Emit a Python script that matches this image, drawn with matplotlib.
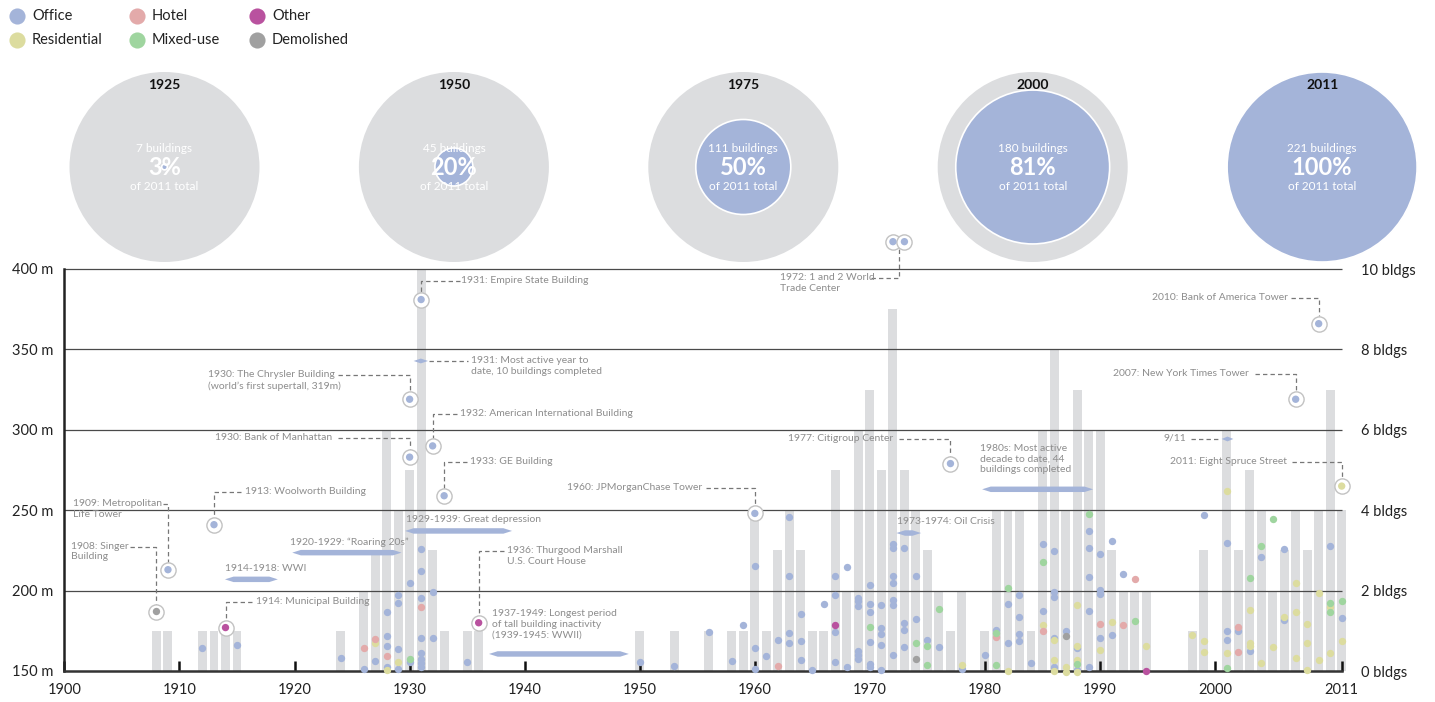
import numpy as np
import matplotlib.pyplot as plt
from matplotlib.patches import Circle, Polygon

plt.rcParams["font.family"] = ["Lato", "DejaVu Sans"]

# =====================================================
# DATA
# =====================================================

# buildings completed per year (bars, right axis)
bar_years = [1908, 1909, 1912, 1913, 1914, 1915, 1924, 1926, 1927, 1928, 1929, 1930, 1931, 1932, 1933, 1935, 1936,
             1950, 1953, 1956, 1958, 1959, 1960, 1961, 1962, 1963, 1964, 1965, 1966, 1967, 1968, 1969, 1970,
             1971, 1972, 1973, 1974, 1975, 1976, 1977, 1978, 1980, 1981, 1982, 1983, 1984, 1985, 1986, 1987,
             1988, 1989, 1990, 1991, 1992, 1993, 1994, 1998, 1999, 2001, 2002, 2003, 2004, 2005, 2006, 2007,
             2008, 2009, 2010, 2011]
bar_counts = [1, 1, 1, 1, 1, 1, 1, 2, 3, 6, 4, 5, 10, 3, 1, 1, 1,
              1, 1, 1, 1, 1, 4, 1, 3, 4, 3, 1, 1, 5, 2, 6, 7,
              5, 9, 5, 4, 3, 2, 1, 2, 1, 4, 4, 4, 1, 6, 8, 4,
              7, 6, 6, 3, 2, 2, 2, 1, 3, 6, 3, 5, 4, 2, 3, 4,
              3, 4, 7, 4]

# (year, height in m) of each building by function
office = [(1912, 164), (1915, 166), (1924, 158), (1926, 151), (1927, 156),
          (1928, 187), (1928, 172), (1928, 165.7), (1928, 152.7),
          (1929, 197.3), (1929, 192.3), (1929, 163.5), (1929, 151),
          (1930, 204.5), (1930, 155.4),
          (1931, 225.7), (1931, 212), (1931, 195.7), (1931, 170.3), (1931, 161.4), (1931, 157.3),
          (1931, 154.8), (1931, 152.7),
          (1932, 199), (1932, 170.5), (1935, 155.8), (1950, 155.8), (1953, 153.3), (1956, 174),
          (1958, 156.4), (1959, 178.6), (1960, 215), (1960, 164), (1960, 151), (1961, 159.5), (1962, 169),
          (1963, 246), (1963, 209), (1963, 173.6), (1963, 167.6),
          (1964, 185.2), (1964, 168.7), (1964, 156.6), (1965, 150.6), (1966, 191.5),
          (1967, 209.3), (1967, 197.3), (1967, 174.4), (1967, 155.4), (1968, 214.7), (1968, 152.7),
          (1969, 195.6), (1969, 193.5), (1969, 190.4), (1969, 162.4), (1969, 160), (1969, 157.5),
          (1970, 203.5), (1970, 191.5), (1970, 186.9), (1970, 167.8), (1970, 154.2), (1970, 152.7),
          (1971, 190.8), (1971, 176.5), (1971, 173), (1971, 166.4), (1971, 150.6),
          (1972, 229), (1972, 226.7), (1972, 209), (1972, 204.9), (1972, 194.2), (1972, 191), (1972, 160),
          (1973, 226.2), (1973, 179.9), (1973, 175.3), (1973, 164.7),
          (1974, 209.3), (1974, 182.5), (1975, 169.3), (1976, 164.7), (1978, 151), (1980, 159.7),
          (1981, 175.5), (1982, 191.5), (1982, 167.6),
          (1983, 197.3), (1983, 183.4), (1983, 173.2), (1983, 168.5), (1984, 155.2),
          (1985, 228.8), (1985, 187.1),
          (1986, 224.6), (1986, 199), (1986, 195.8), (1986, 170.7), (1986, 152.3),
          (1987, 174.7), (1988, 164), (1988, 150.6),
          (1989, 236.9), (1989, 226.5), (1989, 208.3), (1989, 187.1), (1989, 152.3),
          (1990, 223), (1990, 200.4), (1990, 197.7), (1990, 170.7),
          (1991, 230.6), (1991, 172.6), (1992, 210.5), (1999, 246.8),
          (2001, 229.8), (2001, 174.9), (2001, 169.1), (2002, 174.9), (2003, 162.6), (2004, 221.1),
          (2006, 225.7), (2006, 181.7), (2010, 227.7), (2011, 182.8)]

residential = [(1927, 167.5), (1928, 150.6), (1929, 155.4), (1978, 153.7), (1982, 150), (1985, 178.6),
               (1986, 169.3), (1986, 156.8), (1986, 150.2), (1987, 152.3), (1987, 149.2),
               (1988, 191.3), (1988, 165.7), (1988, 156.8), (1988, 149.6),
               (1990, 163.2), (1991, 180.7), (1994, 165.7), (1998, 172.4), (1999, 168.5), (1999, 161.6),
               (2001, 261.9), (2001, 161), (2003, 187.9), (2003, 167.6), (2003, 165.7), (2004, 155.2),
               (2005, 165.1), (2006, 183.6), (2007, 204.7), (2007, 186.9), (2007, 158.3),
               (2008, 179), (2008, 167.2), (2008, 150.4), (2009, 198.7), (2009, 156.8),
               (2010, 189.6), (2010, 161.4), (2011, 168.7)]

hotel = [(1926, 164.5), (1927, 170), (1928, 159.3), (1931, 190), (1962, 153.3), (1981, 171),
         (1985, 174.7), (1990, 179.2), (1992, 178.8), (1993, 207.2), (2002, 177.6), (2002, 161.8)]

mixed_use = [(1930, 157.5), (1970, 177.2), (1974, 167.6), (1975, 165.5), (1975, 154), (1976, 188.8),
             (1981, 173.4), (1981, 153.7), (1982, 201.8), (1985, 217.6), (1988, 154.4), (1989, 247.4),
             (1993, 180.9), (2001, 151.9), (2003, 208), (2004, 227.9), (2005, 244.8),
             (2010, 192.1), (2010, 186.5), (2011, 193.8)]

other = [(1967, 178.6), (1994, 149.8)]

demolished = [(1974, 157.3), (1987, 172)]

# landmark buildings (circled)
landmark_years = [1908, 1909, 1913, 1914, 1930, 1930, 1931, 1932, 1933, 1936, 1960, 1972, 1973, 1977,
                  2007, 2009, 2011]
landmark_heights = [187, 213, 241, 177, 319, 283, 381, 290, 259, 180, 248, 417, 417, 279, 319, 366, 265]
landmark_uses = ["Demolished", "Office", "Office", "Other", "Office", "Office", "Office", "Office",
                 "Office", "Other", "Office", "Office", "Office", "Office", "Office", "Office", "Residential"]

# cumulative totals
snapshot_years = ["1925", "1950", "1975", "2000", "2011"]
snapshot_counts = [7, 45, 111, 180, 221]

# =====================================================
# STYLE
# =====================================================

COLORS = {
    "Office": "#a4b4d9",
    "Hotel": "#e3aaaa",
    "Other": "#b9529f",
    "Residential": "#dcdc9f",
    "Mixed-use": "#9fd59f",
    "Demolished": "#a0a0a0",
}
BAR_GREY = "#dcdddf"
NOTE_GREY = "#8d8d8d"
LEADER_GREY = "#777777"
NOTE_SIZE = 7.5
RING = 4.8  # ring radius in metres

fig = plt.figure(figsize=(14.35, 7.02), dpi=100)

# =====================================================
# LEGEND + SNAPSHOT CIRCLES (pixel canvas)
# =====================================================

top = fig.add_axes([0, 0, 1, 1])
top.set_xlim(0, 1435)
top.set_ylim(702, 0)
top.axis("off")

legend_order = ["Office", "Hotel", "Other", "Residential", "Mixed-use", "Demolished"]
for i, name in enumerate(legend_order):
    lx = 17 + 120 * (i % 3)
    ly = 15.5 + 24 * (i // 3)
    top.scatter(lx, ly, s=135, color=COLORS[name], lw=0)
    top.text(lx + 15, ly, name, fontsize=10.5, va="center", color="#222222")

total = snapshot_counts[-1]
R = 95
for i, (yr, n) in enumerate(zip(snapshot_years, snapshot_counts)):
    cx = 164.5 + 289.4 * i
    cy = 167
    pct = round(100 * n / total)
    top.add_patch(Circle((cx, cy), R, color=BAR_GREY, lw=0))
    top.add_patch(Circle((cx, cy), R * pct / 100, facecolor=COLORS["Office"],
                         edgecolor="white", lw=1.2))
    top.text(cx, 85, yr, ha="center", va="center", fontsize=10, fontweight="bold", color="#111111")
    top.text(cx, 148, f"{n} buildings", ha="center", va="center", fontsize=8.5, color="white")
    top.text(cx, 167.5, f"{pct}%", ha="center", va="center", fontsize=17, fontweight="bold", color="white")
    top.text(cx, 187, "of 2011 total", ha="center", va="center", fontsize=8.5, color="white")

# =====================================================
# BARS (building counts)
# =====================================================

pos = [64.4 / 1435, 31 / 702, 1277.3 / 1435, 402 / 702]

ax_n = fig.add_axes(pos)
ax_n.bar(bar_years, bar_counts, width=0.78, color=BAR_GREY, lw=0, clip_on=False)
ax_n.set_xlim(1900, 2011)
ax_n.set_ylim(0, 10)
ax_n.set_xticks([])
ax_n.yaxis.tick_right()
ax_n.set_yticks(range(0, 11, 2))
ax_n.set_yticklabels([f"{v} bldgs" for v in range(0, 11, 2)])
ax_n.tick_params(axis="y", length=0, pad=14, labelsize=10.5, labelcolor="#222222")
for s in ax_n.spines.values():
    s.set_visible(False)

# =====================================================
# HEIGHTS
# =====================================================

ax = fig.add_axes(pos)
ax.patch.set_visible(False)
ax.set_xlim(1900, 2011)
ax.set_ylim(150, 400)

ax.hlines(range(200, 401, 50), 1900, 2011, color="#4a4a4a", lw=0.9, zorder=1.5, clip_on=False)

for s in ["top", "right"]:
    ax.spines[s].set_visible(False)
ax.spines["left"].set_linewidth(1.8)
ax.spines["left"].set_color("#222222")
ax.spines["bottom"].set_linewidth(1.8)
ax.spines["bottom"].set_color("#333333")

ax.set_yticks(range(150, 401, 50))
ax.set_yticklabels([f"{v} m" for v in range(150, 401, 50)])
ax.tick_params(axis="y", length=0, pad=8, labelsize=10.5, labelcolor="#222222")

xt = list(range(1900, 2001, 10)) + [2011]
ax.set_xticks(xt)
ax.set_xticklabels([str(v) for v in xt])
ax.tick_params(axis="x", direction="in", length=7, width=1.8, color="#111111",
               pad=9, labelsize=10.5, labelcolor="#222222")

series = [("Office", office), ("Residential", residential), ("Hotel", hotel),
          ("Mixed-use", mixed_use), ("Other", other), ("Demolished", demolished)]
for name, pts in series:
    xs = [p[0] for p in pts]
    hs = [p[1] for p in pts]
    ax.scatter(xs, hs, s=28, color=COLORS[name], lw=0, zorder=4, clip_on=False)

ax.scatter(landmark_years, landmark_heights, s=120, facecolor="white", edgecolor="#c2c2c2",
           lw=1, zorder=3, clip_on=False)
ax.scatter(landmark_years, landmark_heights, s=28, color=[COLORS[u] for u in landmark_uses],
           lw=0, zorder=5, clip_on=False)

# =====================================================
# ANNOTATIONS
# =====================================================


def note(x, y, s, ha="left"):
    ax.annotate(s, (x, y), xytext=(0, 3.6), textcoords="offset points", ha=ha, va="top",
                fontsize=NOTE_SIZE, color=NOTE_GREY, linespacing=1.25, zorder=6,
                annotation_clip=False)


def leader(xs, ys):
    ax.plot(xs, ys, color=LEADER_GREY, lw=0.9, ls=(0, (3.5, 2.5)), zorder=2, clip_on=False)


def lens(x0, x1, y, half=1.7, tip=0.75):
    tip = min(tip, (x1 - x0) / 2)
    pts = [(x0, y), (x0 + tip, y + half), (x1 - tip, y + half),
           (x1, y), (x1 - tip, y - half), (x0 + tip, y - half)]
    ax.add_patch(Polygon(pts, closed=True, color=COLORS["Office"], lw=0, zorder=5, clip_on=False))


# text, text x, text y, align, leader start x, target year, target height
callouts = [
    ("1931: Empire State Building", 1934.5, 392.5, "left", 1934.35, 1931, 381),
    ("1930: The Chrysler Building\n(world\u2019s first supertall, 319m)", 1912.5, 333.8, "left", 1923.8, 1930, 319),
    ("1930: Bank of Manhattan", 1923.3, 294.9, "right", 1923.8, 1930, 283),
    ("1932: American International Building", 1934.4, 310.1, "left", 1934.1, 1932, 290),
    ("1933: GE Building", 1935.25, 280.2, "left", 1935.0, 1933, 259),
    ("1909: Metropolitan\nLife Tower", 1900.75, 253.9, "left", 1908.6, 1909, 213),
    ("1908: Singer\nBuilding", 1900.6, 227.3, "left", 1905.7, 1908, 187),
    ("1913: Woolworth Building", 1915.7, 261.1, "left", 1915.35, 1913, 241),
    ("1914: Municipal Building", 1916.65, 193.1, "left", 1916.3, 1914, 177),
    ("1936: Thurgood Marshall\nU.S. Court House", 1938.45, 224.6, "left", 1938.2, 1936, 180),
    ("1960: JPMorganChase Tower", 1955.4, 263.5, "right", 1955.75, 1960, 248),
    ("1972: 1 and 2 World\nTrade Center", 1962.2, 394.2, "left", 1970.1, 1972.55, 417),
    ("1977: Citigroup Center", 1972.0, 294.3, "right", 1972.5, 1977, 279),
    ("2010: Bank of America Tower", 2006.35, 381.7, "right", 2006.6, 2009, 366),
    ("2007: New York Times Tower", 2002.95, 334.7, "right", 2003.5, 2007, 319),
    ("2011: Eight Spruce Street", 2006.25, 280.0, "right", 2006.7, 2011, 265),
]

for text, tx, ty, ha, lx, bx, bh in callouts:
    note(tx, ty, text, ha)
    end = bh + RING if ty > bh else bh - RING
    leader([lx, bx, bx], [ty, ty, end])

# text, text x, text y, arrow start, arrow end, arrow y
periods = [
    ("1914-1918: WWI", 1913.95, 213.4, 1913.95, 1918.55, 207.0),
    ("1920-1929: \u201cRoaring 20s\u201d", 1919.6, 230.0, 1919.8, 1929.3, 223.6),
    ("1929-1939: Great depression", 1929.7, 243.9, 1929.6, 1938.9, 237.1),
    ("1937-1949: Longest period\nof tall building inactivity\n(1939-1945: WWII)", 1937.15, 185.3,
     1936.9, 1949.05, 160.6),
    ("1973-1974: Oil Crisis", 1972.35, 242.8, 1972.3, 1974.45, 235.8),
    ("1980s: Most active\ndecade to date, 44\nbuildings completed", 1979.6, 288.1, 1979.75, 1989.4, 263.0),
]

for text, tx, ty, x0, x1, ay in periods:
    note(tx, ty, text)
    lens(x0, x1, ay)

# single-year markers: text, align, text x, y, lens start, lens end, dash start, dash end
markers = [
    ("1931: Most active year to\ndate, 10 buildings completed", "left", 1935.35, 342.8,
     1930.35, 1931.6, 1931.65, 1935.1),
    ("9/11", "right", 1997.5, 294.3, 2000.57, 2001.58, 1997.9, 2000.5),
]

for text, ha, tx, y, x0, x1, d0, d1 in markers:
    note(tx, y, text, ha)
    lens(x0, x1, y, half=1.5)
    leader([d0, d1], [y, y])

fig.savefig("out.png", dpi=100)
